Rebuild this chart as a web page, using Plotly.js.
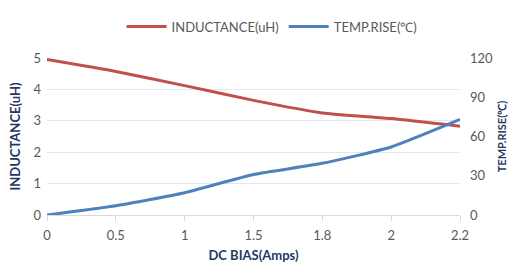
<!DOCTYPE html>
<html><head><meta charset="utf-8">
<script src="https://cdn.plot.ly/plotly-3.0.1.min.js"></script>
<style>html,body{margin:0;padding:0;background:#fff}#c{width:511px;height:263px}</style>
</head><body><div id="c"></div>
<script>
const dcBias = ['0','0.5','1','1.5','1.8','2','2.2'];
const inductance = [4.95, 4.57, 4.12, 3.65, 3.25, 3.07, 2.83];
const tempRise = [0, 7, 17, 31, 39.5, 52, 73];
const leftTicks = [0,1,2,3,4,5];
const rightTicks = [0,30,60,90,120];

const font = 'Lato, "Open Sans", sans-serif';
const traces = [
  {x: dcBias, y: inductance, name: 'INDUCTANCE(uH)', type: 'scatter', mode: 'lines',
   line: {color: '#C0504D', width: 3, shape: 'spline', smoothing: 0.5}, yaxis: 'y'},
  {x: dcBias, y: tempRise, name: 'TEMP.RISE(℃)', type: 'scatter', mode: 'lines',
   line: {color: '#4F81BD', width: 3, shape: 'spline', smoothing: 0.5}, yaxis: 'y2'}
];
const layout = {
  width: 511, height: 263,
  margin: {l: 47, r: 51, t: 52, b: 48},
  paper_bgcolor: '#fff', plot_bgcolor: '#fff',
  font: {family: font, color: '#595959', size: 12},
  showlegend: true,
  legend: {orientation: 'h', x: 0.545, xanchor: 'center', y: 1.2, yanchor: 'middle',
           font: {size: 13, color: '#595959'}, itemwidth: 40, tracegroupgap: 0},
  xaxis: {type: 'category', range: [0, 6], showgrid: false, showline: true,
          linecolor: '#D9D9D9', linewidth: 1, ticks: 'outside', ticklen: 5, tickcolor: '#D9D9D9',
          ticklabelstandoff: 3,
          tickfont: {size: 13, color: '#595959'},
          title: {text: 'DC BIAS(Amps)', font: {size: 13, color: '#1F3864', weight: 'bold'}, standoff: 11},
          zeroline: false},
  yaxis: {range: [0, 5], tickvals: leftTicks, showgrid: true, gridcolor: '#E1E6F0', gridwidth: 1,
          zeroline: false, showline: false, ticks: '', tickfont: {size: 13, color: '#595959'},
          ticklabelstandoff: 5,
          title: {text: 'INDUCTANCE(uH)', font: {size: 13, color: '#1F3864', weight: 'bold'}, standoff: 9}},
  yaxis2: {range: [0, 120], tickvals: rightTicks, overlaying: 'y', side: 'right', showgrid: false,
           zeroline: false, showline: false, ticks: '', tickfont: {size: 13, color: '#595959'},
           ticklabelstandoff: 9,
           title: {text: 'TEMP.RISE(℃)', font: {size: 11, color: '#1F3864', weight: 'bold'}, standoff: 6}}
};
Plotly.newPlot('c', traces, layout, {displayModeBar: false, staticPlot: true});
</script></body></html>
